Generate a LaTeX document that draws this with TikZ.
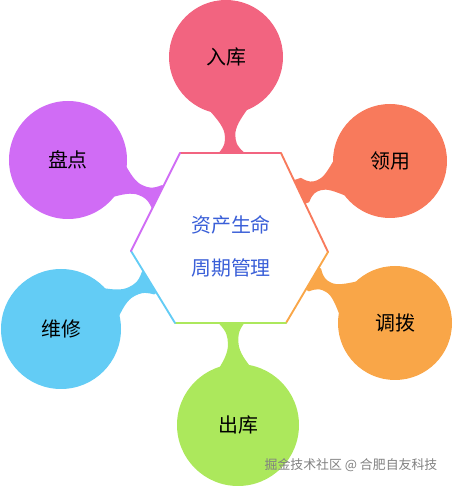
\documentclass[tikz,border=0pt]{standalone}
\usepackage{fontspec}
\setmainfont{Noto Sans CJK SC}
\usetikzlibrary{calc}

\definecolor{cRosa}{HTML}{F26480}
\definecolor{cViola}{HTML}{D06CF5}
\definecolor{cRosso}{HTML}{F87A5C}
\definecolor{cArancio}{HTML}{F9A648}
\definecolor{cVerde}{HTML}{ACE85C}
\definecolor{cAzzurro}{HTML}{63CCF5}
\definecolor{cTesto}{HTML}{3A5FD8}

\tikzset{
  bolla/.style={circle, fill=#1, inner sep=0pt, minimum size=34.2mm,
    font=\fontsize{17}{19}\selectfont},
  lato/.style={line width=1.6pt, line cap=round},
}

% gambo: dal bordo dell'esagono (#1) verso il cerchio (#2)
\newcommand{\gambo}[3]{%
  \path let \p1=(#1), \p2=(#2) in
    \pgfextra{\pgfmathsetmacro\gamboang{atan2(\y2-\y1,\x2-\x1)}\xdef\gamboang{\gamboang}%
      \pgfmathsetmacro\gambogap{veclen(\x2-\x1,\y2-\y1)-49}\xdef\gambogap{\gambogap}};
  \begin{scope}[shift={(#1)},rotate=\gamboang,x=1pt,y=1pt]
    \fill[#3] (-10,-11) -- (0,-11)
      .. controls ({0.2*\gambogap},-4.5) and ({0.3*\gambogap},-4.5) .. ({0.45*\gambogap},-4.5)
      .. controls ({0.65*\gambogap},-4.5) and ({0.85*\gambogap},-9) .. ({\gambogap+6},-18)
      -- ({\gambogap+6},18)
      .. controls ({0.85*\gambogap},9) and ({0.65*\gambogap},4.5) .. ({0.45*\gambogap},4.5)
      .. controls ({0.3*\gambogap},4.5) and ({0.2*\gambogap},4.5) .. (0,11)
      -- (-10,11) -- cycle;
  \end{scope}}

\begin{document}
\begin{tikzpicture}[x=0.3mm,y=0.3mm]
        \useasboundingbox (0,0) rectangle (452,486);

        %%%%%%%%%% Cerchi %%%%%%%%%%
        \node[bolla=cRosa] (ruku) at (226,429) {入库};
        \node[bolla=cViola, minimum size=35.4mm] (pandian) at (68,326) {盘点};
        \node[bolla=cRosso] (lingyong) at (390,325) {领用};
        \node[bolla=cArancio] (diaobo) at (395,163) {调拨};
        \node[bolla=cVerde, minimum size=36.6mm] (chuku) at (238,61) {出库};
        \node[bolla=cAzzurro, minimum size=36mm] (weixiu) at (61,157) {维修};

        %%%%%%%%%% Esagono %%%%%%%%%%
        \coordinate (h1) at (180,333);
        \coordinate (h2) at (281,333);
        \coordinate (h3) at (328,234);
        \coordinate (h4) at (286,163);
        \coordinate (h5) at (175,163);
        \coordinate (h6) at (131,235);

        %%%%%%%%% Gambi %%%%%%%%%
        \coordinate (g1) at (231,333);
        \coordinate (g2) at (157,289);
        \coordinate (g3) at (305,296);
        \coordinate (g4) at (315,206);
        \coordinate (g5) at (232,163);
        \coordinate (g6) at (148,203);
        \gambo{g1}{ruku}{cRosa}
        \gambo{g2}{pandian}{cViola}
        \gambo{g3}{lingyong}{cRosso}
        \gambo{g4}{diaobo}{cArancio}
        \gambo{g5}{chuku}{cVerde}
        \gambo{g6}{weixiu}{cAzzurro}

        \fill[white] (h1) -- (h2) -- (h3) -- (h4) -- (h5) -- (h6) -- cycle;
        \draw[lato,cRosa] (h1) -- (h2);
        \draw[lato,cRosso] (h2) -- (h3);
        \draw[lato,cArancio] (h3) -- (h4);
        \draw[lato,cVerde] (h4) -- (h5);
        \draw[lato,cAzzurro] (h5) -- (h6);
        \draw[lato,cViola] (h6) -- (h1);

        %%%%%%%%%% Testi %%%%%%%%%%
        \node[cTesto, align=center, font=\fontsize{17}{36.6}\selectfont] (centro) at (231,240) {资产生命\\周期管理};
        \node[gray, font=\fontsize{11}{13}\selectfont] (firma) at (351,21) {掘金技术社区 @ 合肥自友科技};
\end{tikzpicture}
\end{document}
